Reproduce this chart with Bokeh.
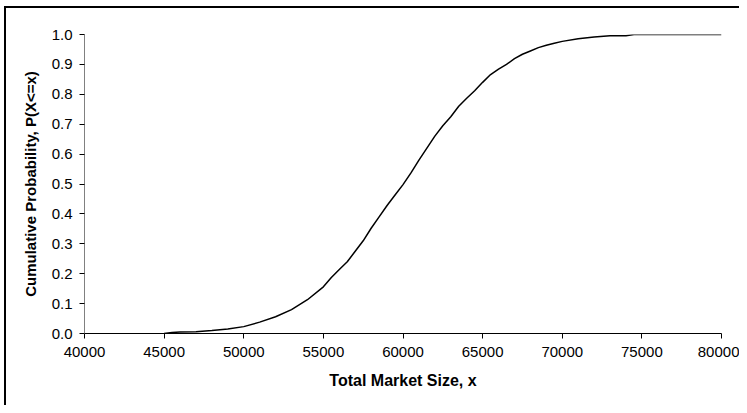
from bokeh.plotting import figure
from bokeh.models import Range1d, SingleIntervalTicker, NumeralTickFormatter, InlineStyleSheet
from bokeh.embed import file_html
from bokeh.resources import INLINE

market_size = [45000, 45500, 46000, 47000, 48000, 49000, 50000, 51000, 52000, 53000,
               54000, 55000, 55500, 56000, 56500, 57000, 57500, 58000, 58500, 59000,
               59500, 60000, 60500, 61000, 61500, 62000, 62500, 63000, 63500, 64000,
               64500, 65000, 65500, 66000, 66500, 67000, 67500, 68000, 68500, 69000,
               69500, 70000, 71000, 72000, 73000, 74000, 74500, 75000, 76000, 77000,
               78000, 79000, 80000]
cum_prob = [0.000, 0.003, 0.005, 0.006, 0.010, 0.015, 0.023, 0.038, 0.056, 0.080,
            0.113, 0.156, 0.187, 0.214, 0.240, 0.275, 0.310, 0.352, 0.390, 0.428,
            0.463, 0.498, 0.537, 0.580, 0.620, 0.660, 0.695, 0.725, 0.760, 0.787,
            0.812, 0.840, 0.866, 0.884, 0.900, 0.919, 0.934, 0.945, 0.956, 0.964,
            0.971, 0.977, 0.986, 0.992, 0.996, 0.996, 1.000, 1.000, 1.000, 1.000,
            1.000, 1.000, 1.000]

x_title = "Total Market Size, x"
y_title = "Cumulative Probability, P(X<=x)"

p = figure(width=739, height=405, output_backend="svg", toolbar_location=None,
           x_range=Range1d(40000, 80000), y_range=Range1d(0, 1),
           min_border_left=84, min_border_right=18, min_border_top=34, min_border_bottom=72)
p.background_fill_color = "white"
p.border_fill_color = "white"
p.outline_line_color = None
p.grid.visible = False

# outer chart-area border (left and top edges visible, as in the reference)
p.stylesheets = [InlineStyleSheet(css=""":host::after { content: ""; position: absolute; left: 4px; top: 6px;
  width: 733px; height: 397px; border-left: 2px solid black; border-top: 2px solid black;
  z-index: 100; pointer-events: none; }""")]

p.line(market_size, cum_prob, line_color="black", line_width=1.5)

FONT = "Liberation Sans"
p.xaxis.ticker = SingleIntervalTicker(interval=5000, num_minor_ticks=0)
p.yaxis.ticker = SingleIntervalTicker(interval=0.1, num_minor_ticks=0)
p.xaxis.formatter = NumeralTickFormatter(format="0")
p.yaxis.formatter = NumeralTickFormatter(format="0.0")

for ax in (p.xaxis[0], p.yaxis[0]):
    ax.major_label_text_font = FONT
    ax.major_label_text_font_size = "15px"
    ax.major_label_text_color = "black"
    ax.axis_label_text_font = FONT
    ax.axis_label_text_font_style = "bold"
    ax.axis_label_text_color = "black"
    ax.major_tick_in = 0
    ax.major_tick_out = 5
    ax.minor_tick_line_color = None
    ax.major_tick_line_color = "black"

p.xaxis.axis_label = x_title
p.yaxis.axis_label = y_title
p.xaxis.axis_label_text_font_size = "16px"
p.yaxis.axis_label_text_font_size = "15px"
p.xaxis.axis_line_color = "black"
p.yaxis.axis_line_color = "#808080"
p.xaxis.major_label_standoff = 8
p.yaxis.major_label_standoff = 7
p.xaxis.axis_label_standoff = 12
p.yaxis.axis_label_standoff = 10

open("out.html", "w").write(file_html(p, INLINE))
